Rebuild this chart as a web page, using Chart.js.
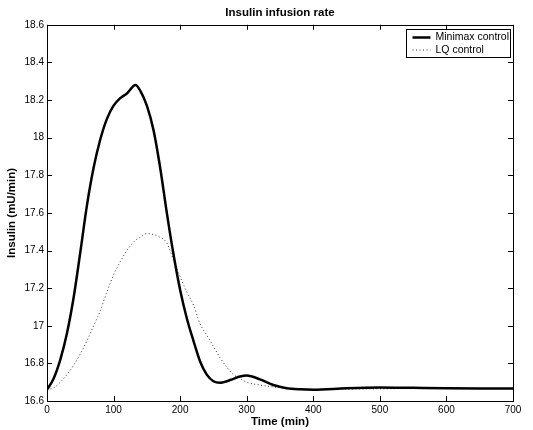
<!DOCTYPE html>
<html>
<head>
<meta charset="utf-8">
<script src="https://cdn.jsdelivr.net/npm/chart.js@4.4.1/dist/chart.umd.min.js"></script>
<style>
  html, body { margin: 0; padding: 0; background: #fff; }
  #wrap { width: 533px; height: 430px; }
</style>
</head>
<body>
<div id="wrap"><canvas id="chart" width="533" height="430"></canvas></div>
<script>
// time grid (min)
const times = [0, 10, 20, 30, 40, 50, 60, 70, 80, 90, 100, 110, 120, 133, 140, 150, 160, 170, 180, 190, 200,
    210, 220, 230, 240, 250, 260, 270, 280, 290, 300, 320, 340, 360, 380, 400, 450, 500, 550, 600, 650, 700];

const minimaxInsulin = [16.66, 16.72, 16.82, 16.96, 17.15, 17.39, 17.64, 17.84, 17.99, 18.10, 18.17, 18.21, 18.235, 18.28, 18.25, 18.17, 18.04, 17.84, 17.60, 17.38, 17.19,
    17.04, 16.92, 16.81, 16.74, 16.705, 16.697, 16.705, 16.718, 16.73, 16.735, 16.715, 16.685, 16.668, 16.662, 16.66, 16.668, 16.672, 16.67, 16.668, 16.667, 16.667];

const lqInsulin = [16.66, 16.67, 16.70, 16.74, 16.79, 16.85, 16.92, 17.00, 17.08, 17.18, 17.27, 17.34, 17.40, 17.455, 17.47, 17.49, 17.485, 17.47, 17.44, 17.35, 17.26,
    17.18, 17.11, 17.01, 16.95, 16.89, 16.83, 16.78, 16.74, 16.72, 16.70, 16.685, 16.675, 16.668, 16.664, 16.663, 16.664, 16.665, 16.666, 16.666, 16.666, 16.666];

const xTicks = [0, 100, 200, 300, 400, 500, 600, 700];
const xTickLabels = ["0", "100", "200", "300", "400", "500", "600", "700"];
const yTicks = [16.6, 16.8, 17, 17.2, 17.4, 17.6, 17.8, 18, 18.2, 18.4, 18.6];
const yTickLabels = ["16.6", "16.8", "17", "17.2", "17.4", "17.6", "17.8", "18", "18.2", "18.4", "18.6"];

const font = '"Liberation Sans", Arial, Helvetica, sans-serif';

const toPoints = (ys) => times.map((t, i) => ({ x: t, y: ys[i] }));

// frame + inward ticks, matlab style
const framePlugin = {
    id: "frame",
    afterDraw(chart) {
        const ctx = chart.ctx;
        const a = chart.chartArea;
        const xs = chart.scales.x, ys = chart.scales.y;
        const len = 5;
        ctx.save();
        ctx.strokeStyle = "#000";
        ctx.lineWidth = 1;
        ctx.beginPath();
        xTicks.forEach(v => {
            const px = Math.round(xs.getPixelForValue(v)) + 0.5;
            ctx.moveTo(px, a.bottom); ctx.lineTo(px, a.bottom - len);
            ctx.moveTo(px, a.top); ctx.lineTo(px, a.top + len);
        });
        yTicks.forEach(v => {
            const py = Math.round(ys.getPixelForValue(v)) + 0.5;
            ctx.moveTo(a.left, py); ctx.lineTo(a.left + len, py);
            ctx.moveTo(a.right, py); ctx.lineTo(a.right - len, py);
        });
        ctx.stroke();
        ctx.strokeRect(Math.round(a.left) + 0.5, Math.round(a.top) + 0.5,
            Math.round(a.right - a.left), Math.round(a.bottom - a.top));
        ctx.restore();
    }
};

// boxed legend in upper right
const legendPlugin = {
    id: "boxLegend",
    afterDraw(chart) {
        const ctx = chart.ctx;
        const a = chart.chartArea;
        const w = 104, h = 28;
        const x0 = Math.round(a.right - w - 3) + 0.5;
        const y0 = Math.round(a.top + 4) + 0.5;
        ctx.save();
        ctx.fillStyle = "#fff";
        ctx.fillRect(x0, y0, w, h);
        ctx.strokeStyle = "#000";
        ctx.lineWidth = 1;
        ctx.strokeRect(x0, y0, w, h);
        ctx.font = "10.5px " + font;
        ctx.textBaseline = "middle";
        chart.data.datasets.forEach((ds, i) => {
            const ry = y0 + 8 + i * 12.5;
            ctx.beginPath();
            ctx.strokeStyle = ds.borderColor;
            ctx.lineWidth = ds.borderWidth;
            ctx.setLineDash(ds.borderDash || []);
            ctx.moveTo(x0 + 6, ry);
            ctx.lineTo(x0 + 24, ry);
            ctx.stroke();
            ctx.setLineDash([]);
            ctx.fillStyle = "#000";
            ctx.fillText(ds.label, x0 + 29, ry);
        });
        ctx.restore();
    }
};

new Chart(document.getElementById("chart"), {
    type: "line",
    data: {
        datasets: [
            {
                label: "Minimax control",
                data: toPoints(minimaxInsulin),
                borderColor: "#000",
                borderWidth: 2.5,
                pointRadius: 0,
                cubicInterpolationMode: "monotone"
            },
            {
                label: "LQ control",
                data: toPoints(lqInsulin),
                borderColor: "#333",
                borderWidth: 1,
                borderDash: [1, 2.5],
                pointRadius: 0,
                cubicInterpolationMode: "monotone"
            }
        ]
    },
    options: {
        responsive: false,
        animation: false,
        layout: { padding: { left: 0, right: 20, top: 0, bottom: 0 } },
        plugins: {
            legend: { display: false },
            tooltip: { enabled: false },
            title: {
                display: true,
                text: "Insulin infusion rate",
                color: "#000",
                fullSize: false,
                font: { family: font, size: 11.5, weight: "bold" },
                padding: { top: 6, bottom: 5 }
            }
        },
        scales: {
            x: {
                type: "linear",
                min: 0,
                max: 700,
                afterFit: (s) => { s.height = 29; },
                afterBuildTicks: (s) => { s.ticks = xTicks.map(v => ({ value: v })); },
                grid: { display: false, drawTicks: false },
                border: { display: false },
                ticks: {
                    color: "#000",
                    padding: 3,
                    maxRotation: 0,
                    font: { family: font, size: 10 },
                    callback: (v, i) => xTickLabels[i]
                },
                title: {
                    display: true,
                    text: "Time (min)",
                    color: "#000",
                    font: { family: font, size: 11.5, weight: "bold" },
                    padding: { top: 0, bottom: 1 }
                }
            },
            y: {
                min: 16.6,
                max: 18.6,
                afterFit: (s) => { s.width = 47; },
                afterBuildTicks: (s) => { s.ticks = yTicks.map(v => ({ value: v })); },
                grid: { display: false, drawTicks: false },
                border: { display: false },
                ticks: {
                    color: "#000",
                    padding: 3,
                    font: { family: font, size: 10 },
                    callback: (v, i) => yTickLabels[i]
                },
                title: {
                    display: true,
                    text: "Insulin (mU/min)",
                    color: "#000",
                    font: { family: font, size: 11.5, weight: "bold" },
                    padding: { top: 5, bottom: 0 }
                }
            }
        }
    },
    plugins: [framePlugin, legendPlugin]
});
</script>
</body>
</html>
